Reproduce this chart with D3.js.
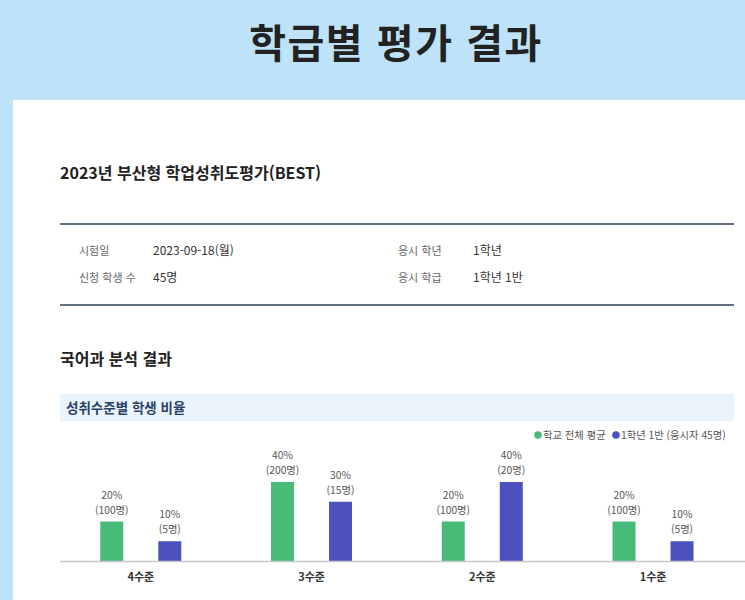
<!DOCTYPE html>
<html lang="ko">
<head>
<meta charset="utf-8">
<script src="https://cdn.jsdelivr.net/npm/d3@7"></script>
<style>
  html, body { margin: 0; padding: 0; background: #bee3f8; }
  svg { display: block; }
  text { font-family: "Noto Sans CJK KR", "Noto Sans", sans-serif; }
</style>
</head>
<body>
<svg id="chart" width="745" height="600"></svg>
<script>
// ---- data ----
const pageTitle = "학급별 평가 결과";
const examTitle = "2023년 부산형 학업성취도평가(BEST)";
const infoLeftLabels = ["시험일", "신청 학생 수"];
const infoLeftValues = ["2023-09-18(월)", "45명"];
const infoRightLabels = ["응시 학년", "응시 학급"];
const infoRightValues = ["1학년", "1학년 1반"];
const sectionTitle = "국어과 분석 결과";
const panelTitle = "성취수준별 학생 비율";
const categories = ["4수준", "3수준", "2수준", "1수준"];
const seriesNames = ["학교 전체 평균", "1학년 1반 (응시자 45명)"];
const schoolPct = [20, 40, 20, 20];
const schoolCount = [100, 200, 100, 100];
const classPct = [10, 30, 40, 10];
const classCount = [5, 15, 20, 5];
const colors = ["#48bb78", "#4c51bf"];

// ---- drawing ----
const svg = d3.select("#chart");

// banner
svg.append("rect").attr("x", 0).attr("y", 0).attr("width", 745).attr("height", 600).attr("fill", "#bee3f8");
svg.append("text").attr("x", 396).attr("y", 58).attr("text-anchor", "middle")
  .attr("font-size", 40).attr("font-weight", 700).attr("fill", "#222")
  .attr("letter-spacing", 1.5).text(pageTitle);

// white panel
svg.append("rect").attr("x", 13).attr("y", 100).attr("width", 760).attr("height", 520).attr("fill", "#fff");

// exam title
svg.append("text").attr("x", 60).attr("y", 179).attr("font-size", 16).attr("font-weight", 700)
  .attr("fill", "#222").text(examTitle);

// info box lines
svg.append("line").attr("x1", 60).attr("x2", 734).attr("y1", 224).attr("y2", 224)
  .attr("stroke", "#2d3e50").attr("stroke-width", 1.6);
svg.append("line").attr("x1", 60).attr("x2", 734).attr("y1", 305).attr("y2", 305)
  .attr("stroke", "#2d3e50").attr("stroke-width", 1.6);

const rowY = [255, 282];
function infoCol(labels, values, lx, vx) {
  labels.forEach((l, i) => {
    svg.append("text").attr("x", lx).attr("y", rowY[i]).attr("font-size", 11)
      .attr("fill", "#666").text(l);
    svg.append("text").attr("x", vx).attr("y", rowY[i]).attr("font-size", 12)
      .attr("fill", "#333").text(values[i]);
  });
}
infoCol(infoLeftLabels, infoLeftValues, 79, 153);
infoCol(infoRightLabels, infoRightValues, 398, 473);

// section title
svg.append("text").attr("x", 60).attr("y", 365).attr("font-size", 16).attr("font-weight", 700)
  .attr("fill", "#222").text(sectionTitle);

// panel header
svg.append("rect").attr("x", 60).attr("y", 394).attr("width", 674).attr("height", 27).attr("fill", "#eaf4fd");
svg.append("text").attr("x", 66).attr("y", 413).attr("font-size", 13.5).attr("font-weight", 700)
  .attr("fill", "#2a4365").text(panelTitle);

// legend
const legend = svg.append("g").attr("transform", "translate(0,435)");
const legendX = [538, 616];
seriesNames.forEach((s, i) => {
  legend.append("circle").attr("cx", legendX[i]).attr("cy", 0).attr("r", 3.8).attr("fill", colors[i]);
  legend.append("text").attr("x", legendX[i] + 5).attr("y", 3.6).attr("font-size", 10.3)
    .attr("fill", "#555").text(s);
});

// chart
const baseY = 561;
const x0 = d3.scaleBand().domain(categories).range([55.4, 738.4]).paddingInner(0).paddingOuter(0);
const bw = x0.bandwidth();
const x1 = d3.scaleBand().domain([0, 1]).range([bw / 2 - 40.5, bw / 2 + 40.5]).paddingInner(0.6034).paddingOuter(0);
const y = d3.scaleLinear().domain([0, 40]).range([baseY, baseY - 79]);

const rows = categories.map((c, i) => ({
  cat: c,
  vals: [
    { s: 0, pct: schoolPct[i], n: schoolCount[i] },
    { s: 1, pct: classPct[i], n: classCount[i] }
  ]
}));

const groups = svg.append("g").selectAll("g").data(rows).join("g")
  .attr("transform", d => `translate(${x0(d.cat)},0)`);

groups.selectAll("rect").data(d => d.vals).join("rect")
  .attr("x", d => x1(d.s)).attr("width", x1.bandwidth())
  .attr("y", d => y(d.pct)).attr("height", d => baseY - y(d.pct))
  .attr("fill", d => colors[d.s]);

const lbl = groups.selectAll("g.lbl").data(d => d.vals).join("g").attr("class", "lbl");
lbl.append("text").attr("x", d => x1(d.s) + x1.bandwidth() / 2).attr("y", d => y(d.pct) - 23)
  .attr("text-anchor", "middle").attr("font-size", 10.3).attr("fill", "#555").text(d => d.pct + "%");
lbl.append("text").attr("x", d => x1(d.s) + x1.bandwidth() / 2).attr("y", d => y(d.pct) - 8)
  .attr("text-anchor", "middle").attr("font-size", 10.3).attr("fill", "#555").text(d => `(${d.n}명)`);

// baseline axis
const axis = svg.append("g").attr("transform", `translate(0,${baseY})`)
  .call(d3.axisBottom(x0).tickSize(0).tickPadding(12));
axis.select(".domain").remove();
axis.append("line").attr("x1", 60).attr("x2", 745).attr("y1", 0.5).attr("y2", 0.5)
  .attr("stroke", "#c8c8c8").attr("stroke-width", 1.5);
axis.selectAll(".tick text").attr("font-size", 11).attr("font-weight", 700).attr("fill", "#333")
  .attr("font-family", "Noto Sans CJK KR, Noto Sans, sans-serif");
</script>
</body>
</html>
